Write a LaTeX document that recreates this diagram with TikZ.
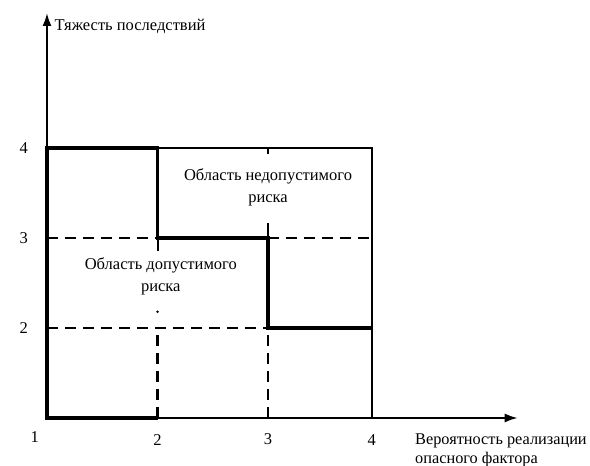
\documentclass[tikz,border=0pt]{standalone}
\usepackage{fontspec}
\setmainfont{Liberation Serif}
\usetikzlibrary{arrows.meta}

% position of the right column (the scale is a bit shorter there)
\def\colfour{3.94}

\begin{document}
\begin{tikzpicture}[x=1pt,y=1pt,font=\fontsize{16.5}{22}\selectfont]
    \useasboundingbox (0,0) rectangle (590,466);
    \tikzset{
        thinline/.style={line width=2pt},
        boundline/.style={line width=3.6pt,line join=miter},
        gridline/.style={line width=2.2pt,dash pattern=on 11pt off 7pt},
    }
    \begin{scope}[x=110.5pt,y=90pt,shift={(-63.5pt,-42pt)}]
        % Axes:
        % Plain lines with an arrow tip, the axis titles are nodes at the ends
        \draw [thinline,-{Latex[length=13pt,width=9pt]}] (1,1) -- (5.26,1);
        \draw [thinline,-{Latex[length=13pt,width=9pt]}] (1,1) -- (1,5.50);
        \node (ylabel) [anchor=west,inner sep=2pt] at (1.05,5.35) {Тяжесть последствий};
        \node (xlabel) [anchor=west,align=left,font=\fontsize{16.3}{19}\selectfont] at (4.30,0.64) {Вероятность реализации\\опасного фактора};

        % Tick labels:
        \node (x1) at (0.89,0.79) {1};
        \foreach \n/\c in {2/2,3/3,4/\colfour}{%
            \node (x\n) at (\c,0.76) {\n};
            \node (y\n) at (0.79,\n) {\n};
        }

        % Grid:
        % dashed lines at the levels 2 and 3
        \draw [gridline] (1,3) -- (2,3);
        \draw [gridline] (3,3) -- (\colfour,3);
        \draw [gridline] (1,2) -- (3,2);
        \draw [gridline] (2,1) -- (2,2);
        \draw [gridline] (3,1) -- (3,2);
        % short pieces of the grid that are left visible
        \draw [thinline] (3,4) -- (3,3.93);
        \draw [thinline] (3,3) -- (3,3.17);
        \draw [thinline] (2,3) -- (2,2.86);
        \fill (2,2.18) circle (1.4pt);

        % Outer frame of the matrix
        \draw [thinline] (2,4) -- (\colfour,4) -- (\colfour,1);

        % Border between the two regions:
        \draw [boundline] (2,1) -- (1,1) -- (1,4) -- (2,4) -- (2,3) -- (3,3) -- (3,2) -- (\colfour,2);

        % Region names:
        \node (unacc) [align=center] at (3.0,3.56) {Область недопустимого\\риска};
        \node (acc) [align=center] at (2.03,2.57) {Область допустимого\\риска};
    \end{scope}
\end{tikzpicture}
\end{document}
